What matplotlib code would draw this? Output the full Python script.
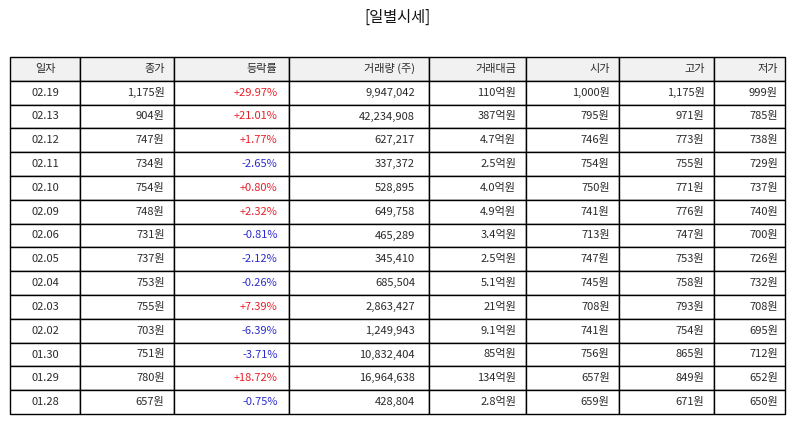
import matplotlib
matplotlib.use("Agg")
import matplotlib.pyplot as plt

plt.rcParams['font.family'] = ['Noto Sans CJK KR', 'DejaVu Sans']

columns = ["일자", "종가", "등락률", "거래량 (주)", "거래대금", "시가", "고가", "저가"]
dates = ["02.19", "02.13", "02.12", "02.11", "02.10", "02.09", "02.06", "02.05",
         "02.04", "02.03", "02.02", "01.30", "01.29", "01.28"]
close = [1175, 904, 747, 734, 754, 748, 731, 737, 753, 755, 703, 751, 780, 657]
change = [29.97, 21.01, 1.77, -2.65, 0.80, 2.32, -0.81, -2.12, -0.26, 7.39, -6.39, -3.71, 18.72, -0.75]
volume = [9947042, 42234908, 627217, 337372, 528895, 649758, 465289, 345410,
          685504, 2863427, 1249943, 10832404, 16964638, 428804]
amount = ["110억원", "387억원", "4.7억원", "2.5억원", "4.0억원", "4.9억원", "3.4억원", "2.5억원",
          "5.1억원", "21억원", "9.1억원", "85억원", "134억원", "2.8억원"]
open_ = [1000, 795, 746, 754, 750, 741, 713, 747, 745, 708, 741, 756, 657, 659]
high = [1175, 971, 773, 755, 771, 776, 747, 753, 758, 793, 754, 865, 849, 671]
low = [999, 785, 738, 729, 737, 740, 700, 726, 732, 708, 695, 712, 652, 650]

col_widths_px = [70, 94, 115, 140, 97, 93, 95, 71]

W, H = 794, 425
fig = plt.figure(figsize=(W / 100, H / 100), dpi=100)
ax = fig.add_axes([0, 0, 1, 1])
ax.axis('off')

rows = []
for i in range(len(dates)):
    rows.append([
        dates[i],
        f"{close[i]:,}원",
        f"{change[i]:+.2f}%",
        f"{volume[i]:,}",
        amount[i],
        f"{open_[i]:,}원",
        f"{high[i]:,}원",
        f"{low[i]:,}원",
    ])

total_w = sum(col_widths_px)
left, right, top, bottom = 10, 785, 57, 414
tbl = ax.table(cellText=rows, colLabels=columns,
               colWidths=[w / total_w for w in col_widths_px],
               cellLoc='right', colLoc='right',
               bbox=[left / W, (H - bottom) / H, (right - left) / W, (bottom - top) / H])
tbl.auto_set_font_size(False)
tbl.set_fontsize(8)

red = '#e8202a'
blue = '#2b2bd0'
for (r, c), cell in tbl.get_celld().items():
    cell.set_edgecolor('black')
    cell.set_linewidth(1.0)
    txt = cell.get_text()
    txt.set_color('#2a2a2a')
    if c == 0:
        cell.set_text_props(ha='center')
        cell._loc = 'center'
    if r == 0:
        cell.set_facecolor('#f1f1f1')
    else:
        cell.set_facecolor('white')
        if c == 2:
            txt.set_color(red if change[r - 1] > 0 else blue)

fig.text(0.5, 1 - 17 / H, "[일별시세]", ha='center', va='center', fontsize=11, color='#111111')

fig.savefig("out.png", dpi=100)
